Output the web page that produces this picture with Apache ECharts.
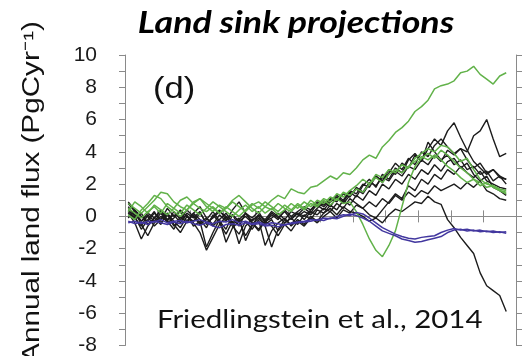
<!DOCTYPE html>
<html>
<head>
<meta charset="utf-8">
<script src="https://cdn.jsdelivr.net/npm/echarts@6/dist/echarts.min.js"></script>
<style>
  html, body { margin: 0; padding: 0; background: #fff; }
  #chart { width: 526px; height: 356px; }
</style>
</head>
<body>
<div id="chart"></div>
<script>
// Simulation years (4-year sampling)
const years = [1862,1866,1870,1874,1878,1882,1886,1890,1894,1898,
               1902,1906,1910,1914,1918,1922,1926,1930,1934,1938,
               1942,1946,1950,1954,1958,1962,1966,1970,1974,1978,
               1982,1986,1990,1994,1998,2002,2006,2010,2014,2018,
               2022,2026,2030,2034,2038,2042,2046,2050,2054,2058,
               2062,2066,2070,2074,2078,2082,2086,2090,2094];

const yTicks = [-8, -6, -4, -2, 0, 2, 4, 6, 8, 10];

// Land flux, PgC/yr — coupled models without nitrogen cycle (black)
const modelA = [0.5,0.1,-0.3,0.2,-0.1,0.4,-0.2,0.1,-0.4,0.2,
                -0.1,0.3,-0.5,0.0,0.4,-0.2,0.1,-0.6,0.2,-0.1,
                0.3,-0.4,0.1,-0.2,0.4,0.0,0.3,0.6,0.4,0.9,
                0.7,1.1,0.9,1.4,1.2,1.8,1.5,2.1,1.9,2.4,
                2.2,2.8,2.5,3.1,2.9,3.5,3.2,3.8,3.4,4.1,
                3.8,4.2,4.0,5.0,5.3,6.0,4.8,3.7,3.9];
const modelB = [0.8,0.3,-0.5,-1.2,-0.4,0.0,-0.3,0.3,-0.2,0.1,
                -0.6,-0.3,-1.9,-1.0,-0.2,0.2,-0.4,-0.1,-1.5,-0.6,
                0.1,-0.3,-0.1,0.2,-0.2,0.3,0.1,0.5,0.2,0.8,
                0.6,1.0,1.3,1.0,1.6,1.4,2.0,1.8,2.5,2.2,
                2.9,2.6,3.3,3.0,3.8,3.4,4.2,4.8,4.4,5.3,
                5.8,4.9,4.1,3.4,3.0,2.6,2.9,2.5,2.3];
const modelC = [0.2,-0.4,-1.4,-0.6,-0.1,-0.5,0.2,-0.3,-0.7,0.0,
                -0.4,-1.0,-2.1,-1.3,-0.5,0.0,-0.6,-1.1,-0.3,-0.8,
                -0.2,-1.8,-0.9,-0.4,-0.1,-0.6,-0.2,-0.5,0.0,-0.3,
                0.2,0.5,0.1,0.6,0.3,0.2,0.0,-0.3,-0.1,-0.4,
                0.1,0.45,0.3,0.6,0.9,0.8,1.25,0.9,0.75,-0.2,
                -0.7,-1.3,-1.8,-2.3,-3.5,-4.3,-4.6,-4.9,-5.9];
const modelD = [0.6,0.0,-0.8,-0.2,0.3,-0.4,0.1,-0.6,-0.2,0.4,
                0.0,-0.5,-0.2,0.3,-0.3,-0.8,0.1,-0.3,-1.2,-0.5,
                -0.1,-0.6,-1.9,-0.8,-0.2,-0.5,0.0,0.3,0.1,0.5,
                0.9,0.6,1.2,0.9,1.5,1.2,1.9,2.3,1.8,2.6,
                2.3,3.0,2.7,3.5,3.9,3.4,4.6,4.0,3.5,3.8,
                3.2,3.5,2.9,3.1,2.6,2.8,2.2,2.5,2.0];
const modelE = [0.3,-0.2,0.2,-0.5,-0.1,0.3,-0.3,-0.8,0.0,-0.4,
                0.2,-0.2,-0.7,0.1,-0.4,-1.1,-0.3,-1.7,-0.6,-0.2,
                0.0,-0.5,-0.2,-0.9,-0.4,-0.1,-0.5,0.1,-0.2,0.4,
                0.2,0.7,0.4,1.0,0.7,1.3,1.0,1.6,1.3,2.0,
                1.7,2.3,2.0,2.6,2.3,2.9,2.6,3.2,2.8,3.4,
                3.6,3.0,3.3,2.6,2.2,2.5,1.8,1.6,1.3];
const modelF = [-0.1,0.4,-0.3,0.0,-0.6,-0.2,0.2,-0.5,-1.0,-0.3,
                0.1,-0.4,-0.1,-0.6,-0.2,-1.6,-0.7,-0.3,0.0,-0.4,
                -0.8,-0.3,-0.6,-1.2,-0.5,-0.9,-0.3,-0.6,-0.1,-0.4,
                0.0,0.3,-0.1,0.4,0.2,0.7,0.5,0.9,0.6,1.1,
                0.8,1.3,1.0,1.5,1.2,1.6,1.4,1.9,1.6,1.8,
                2.0,1.7,2.1,1.8,2.2,1.6,1.4,1.1,1.0];
const modelG = [0.9,0.4,0.0,-0.3,0.2,-0.2,0.5,0.0,0.3,-0.3,
                0.2,0.6,-0.1,-0.5,0.1,-0.3,0.4,0.9,0.2,-0.4,
                -0.9,-0.3,0.2,-0.1,0.3,-0.2,0.2,0.0,0.4,0.7,
                0.4,0.9,1.2,0.8,1.3,1.7,1.4,2.0,2.5,2.1,
                2.7,3.3,2.9,3.6,3.2,4.0,3.7,4.4,4.8,4.3,
                3.9,4.2,3.5,3.0,3.3,2.7,2.9,2.4,2.3];
const modelH = [0.4,-0.1,-0.6,0.1,-0.3,0.2,-0.4,-0.1,0.4,0.0,
                -0.3,0.2,-0.4,-0.1,0.3,0.0,-0.5,-0.2,0.2,-0.3,
                0.1,-0.2,0.3,0.0,-0.4,-0.1,0.2,-0.2,0.3,0.1,
                0.5,0.3,0.8,0.5,1.1,0.8,0.5,0.1,-0.1,0.4,
                0.9,1.4,1.1,1.9,1.6,2.3,2.0,2.6,2.3,2.9,
                2.6,3.1,2.7,2.4,2.8,2.2,2.0,1.8,1.7];

// Models with an alternative land scheme (green)
const altA = [0.8,0.5,0.2,0.6,1.0,1.5,1.4,0.9,0.6,0.4,
              0.8,0.5,0.3,0.6,0.2,0.5,0.9,0.6,0.3,0.7,
              0.9,0.6,1.0,1.3,1.1,1.7,1.5,1.4,1.8,1.9,
              2.2,2.5,2.3,2.7,2.6,3.0,3.5,3.8,3.6,4.3,
              4.7,5.2,5.5,5.9,6.5,6.8,7.2,7.9,8.1,8.2,
              8.4,8.9,9.0,9.3,8.8,8.5,8.2,8.7,8.9];
const altB = [0.3,0.9,0.6,0.2,0.7,0.4,0.1,0.5,1.0,1.2,
              0.8,1.1,0.6,0.3,0.7,0.5,1.0,1.3,0.9,0.5,
              0.2,0.6,0.4,0.8,0.5,0.3,0.7,0.4,0.8,0.6,
              1.0,0.7,1.1,0.8,0.9,0.3,-0.5,-1.4,-2.1,-2.5,
              -1.8,-0.9,0.6,2.1,3.1,3.6,3.9,3.6,4.1,3.8,
              3.4,3.0,2.7,2.3,2.1,1.8,1.9,1.6,1.5];
const altC = [0.1,-0.2,0.4,0.8,1.3,1.1,0.6,0.3,0.0,0.4,
              0.9,1.1,0.8,0.5,0.2,0.6,0.3,0.0,0.4,0.8,
              0.5,0.9,0.6,0.3,0.7,0.4,0.8,0.5,1.0,0.7,
              1.1,0.9,1.4,1.2,1.6,1.9,2.3,2.0,2.6,2.4,
              2.9,2.7,3.2,3.0,3.6,3.9,4.2,4.0,4.4,4.3,
              3.9,3.4,3.6,2.9,2.3,2.0,1.9,1.7,1.6];
const altD = [0.5,0.2,-0.1,0.3,0.6,0.2,0.8,0.5,0.2,0.7,
              0.4,0.1,0.5,0.9,0.6,0.3,0.0,0.4,0.7,0.3,
              0.6,0.2,0.5,0.1,0.4,0.8,0.5,0.9,0.6,1.0,
              0.8,1.2,1.0,1.5,1.3,1.7,1.5,2.0,2.4,2.1,
              2.6,2.9,2.7,3.1,3.4,3.7,3.5,3.8,3.5,3.1,
              2.8,2.4,2.1,2.3,1.9,2.1,1.8,1.6,1.4];

// Models with land-use emissions (blue)
const luA = [-0.4,-0.3,-0.45,-0.3,-0.35,-0.2,-0.4,-0.3,-0.25,-0.4,
             -0.3,-0.2,-0.35,-0.45,-0.3,-0.35,-0.2,-0.4,-0.3,-0.45,
             -0.35,-0.5,-0.4,-0.45,-0.55,-0.4,-0.35,-0.3,-0.2,-0.25,
             -0.1,-0.15,0.0,0.1,0.05,0.25,0.15,-0.1,-0.4,-0.7,
             -0.9,-1.1,-1.25,-1.35,-1.4,-1.3,-1.25,-1.2,-1.0,-0.85,
             -0.75,-0.85,-0.8,-0.9,-0.85,-0.95,-0.9,-1.0,-0.95];
const luB = [-0.3,-0.45,-0.35,-0.5,-0.3,-0.4,-0.5,-0.35,-0.45,-0.3,
             -0.45,-0.55,-0.4,-0.6,-0.7,-0.5,-0.45,-0.55,-0.4,-0.5,
             -0.45,-0.6,-0.55,-0.65,-0.5,-0.45,-0.4,-0.35,-0.3,-0.2,
             -0.25,-0.1,-0.15,0.0,0.15,0.05,-0.1,-0.3,-0.6,-0.9,
             -1.05,-1.2,-1.4,-1.5,-1.6,-1.55,-1.45,-1.35,-1.25,-1.0,
             -0.85,-0.8,-0.9,-0.85,-0.95,-0.9,-1.0,-0.95,-1.05];

const blackRuns = [modelA, modelB, modelC, modelD, modelE, modelF, modelG, modelH];
const greenRuns = [altA, altB, altC, altD];
const blueRuns = [luA, luB];

function pairs(vals) {
  return years.map((y, i) => [y, vals[i]]);
}
function lineSeries(vals, color, width) {
  return {
    type: 'line',
    data: pairs(vals),
    showSymbol: false,
    symbol: 'none',
    smooth: false,
    lineStyle: { color: color, width: width },
    xAxisIndex: 0,
    yAxisIndex: 0,
    z: 3
  };
}

const series = []
  .concat(blackRuns.map(v => lineSeries(v, '#1c1c1c', 1.4)))
  .concat(greenRuns.map(v => lineSeries(v, '#62b24a', 1.5)))
  .concat(blueRuns.map(v => lineSeries(v, '#42379f', 1.5)));

const axisGray = '#8a8a8a';
const xCommon = {
  type: 'value', min: 1860, max: 2100, interval: 20,
  axisLine: { show: true, lineStyle: { color: axisGray, width: 1 } },
  axisTick: { show: true, inside: false, length: 6, lineStyle: { color: axisGray } },
  axisLabel: { show: false },
  splitLine: { show: false }
};
const yCommon = {
  type: 'value', min: -8, max: 10, interval: 1,
  axisLine: { show: true, lineStyle: { color: axisGray, width: 1 } },
  axisTick: { show: true, inside: false, length: 6, lineStyle: { color: axisGray } },
  splitLine: { show: false }
};

const chart = echarts.init(document.getElementById('chart'), null, { renderer: 'canvas' });
chart.setOption({
  animation: false,
  backgroundColor: '#ffffff',
  grid: { left: 125, right: 10, top: 55, bottom: 9, containLabel: false },
  xAxis: [
    Object.assign({}, xCommon, { position: 'bottom' }),
    Object.assign({}, xCommon, { position: 'top' })
  ],
  yAxis: [
    Object.assign({}, yCommon, {
      position: 'left',
      axisLabel: {
        show: true, margin: 28, color: '#1a1a1a', fontSize: 21,
        fontFamily: 'Liberation Sans, Arial, sans-serif',
        padding: [3, 0, 0, 0],
        formatter: v => (yTicks.indexOf(v) >= 0 ? String(v) : '')
      }
    }),
    Object.assign({}, yCommon, { position: 'right', axisLabel: { show: false } })
  ],
  series: series,
  graphic: [
    {
      type: 'text', x: 296, y: 8, scaleX: 1.19, z: 10,
      style: {
        text: 'Land sink projections',
        font: 'italic bold 30px Lato, "Open Sans", sans-serif',
        fill: '#000', align: 'center', verticalAlign: 'top'
      }
    },
    {
      type: 'text', x: 21, y: 192, rotation: Math.PI / 2, scaleX: 1.29, z: 10,
      style: {
        text: 'Annual land flux (PgCyr\u207B\u00B9)',
        font: '23px "Liberation Sans", Arial, sans-serif',
        fill: '#111', align: 'center', verticalAlign: 'top'
      }
    },
    {
      type: 'text', x: 153, y: 75, scaleX: 1.15, z: 10,
      style: {
        text: '(d)', font: '30px "Liberation Sans", Arial, sans-serif', fill: '#111'
      }
    },
    {
      type: 'text', x: 157, y: 307, scaleX: 1.155, z: 10,
      style: {
        text: 'Friedlingstein et al., 2014', font: '25.5px Lato, "Open Sans", sans-serif', fill: '#111'
      }
    }
  ]
});
</script>
</body>
</html>
